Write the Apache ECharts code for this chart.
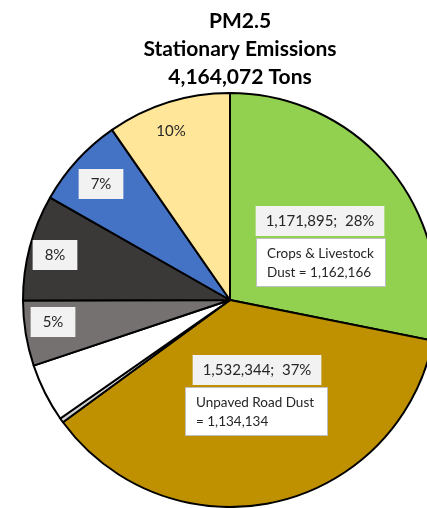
<!DOCTYPE html>
<html>
<head>
<meta charset="utf-8">
<script src="https://cdn.jsdelivr.net/npm/echarts@6/dist/echarts.min.js"></script>
<style>
html,body{margin:0;padding:0;background:#fff;}
#chart{width:427px;height:508px;}
</style>
</head>
<body>
<div id="chart"></div>
<script>
// ---- data ----
const titleLines = ['PM2.5', 'Stationary Emissions', '4,164,072 Tons'];
const categories = ['Crops & Livestock Dust', 'Unpaved Road Dust', 'Source C', 'Source D', 'Source E', 'Source F', 'Source G', 'Source H'];
const values = [1171895, 1532344, 15000, 190000, 212000, 345000, 296000, 401833];
const colors = ['#92d050', '#bf9000', '#d0cece', '#ffffff', '#767171', '#3b3838', '#4472c4', '#ffe699'];
// which labels show value + percent, which only percent, which none
const labelKinds = ['valuePct', 'valuePct', 'none', 'none', 'pct', 'pct', 'pct', 'plain'];
const noteLines = [
  ['Crops & Livestock', 'Dust = 1,162,166'],
  ['Unpaved Road Dust', '= 1,134,134']
];

// ---- layout ----
const labelPos = [[320, 221], [257, 370], null, null, [53, 322], [55, 255], [101, 184], [171, 131]];
const noteBoxes = [[256, 238, 129, 48], [185, 387, 142, 48]];

const FONT = 'Lato, "Open Sans", sans-serif';
const chart = echarts.init(document.getElementById('chart'));
const total = values.reduce((a, b) => a + b, 0);

const data = values.map((v, i) => {
  const kind = labelKinds[i];
  const lbl = { show: kind !== 'none' };
  if (kind === 'valuePct') {
    lbl.backgroundColor = '#f2f2f2';
    lbl.padding = [8, 10, 7, 10];
  } else if (kind === 'pct') {
    lbl.backgroundColor = '#f2f2f2';
    lbl.padding = [8, 12, 7, 12];
  }
  return { name: categories[i], value: v, itemStyle: { color: colors[i] }, label: lbl };
});

const graphics = noteLines.map((lines, k) => {
  const b = noteBoxes[k];
  return {
    type: 'group', x: b[0], y: b[1], z: 100,
    children: [
      { type: 'rect', z: 100, shape: { x: 0.5, y: 0.5, width: b[2], height: b[3] },
        style: { fill: '#ffffff', stroke: '#bfbfbf', lineWidth: 1 } },
      { type: 'text', z: 101, x: 11, y: 6,
        style: { text: lines.join('\n'), font: '13.5px ' + FONT, fill: '#262626', lineHeight: 19 } }
    ]
  };
});

chart.setOption({
  animation: false,
  title: {
    text: titleLines.join('\n'),
    left: 235, top: 2, textAlign: 'center',
    textStyle: { fontFamily: FONT, fontWeight: 'bold', fontSize: 21, lineHeight: 28, color: '#000' }
  },
  series: [{
    type: 'pie',
    center: [230, 300],
    radius: 207,
    startAngle: 90,
    clockwise: true,
    avoidLabelOverlap: false,
    itemStyle: { borderColor: '#000', borderWidth: 2 },
    label: {
      position: 'inside',
      fontFamily: FONT, fontSize: 15, color: '#262626',
      formatter: p => {
        const pct = Math.round(p.value / total * 100) + '%';
        if (labelKinds[p.dataIndex] === 'valuePct') return p.value.toLocaleString('en-US') + ';  ' + pct;
        return pct;
      }
    },
    labelLine: { show: false },
    labelLayout: p => {
      const pos = labelPos[p.dataIndex];
      if (!pos) return {};
      return { x: pos[0], y: pos[1], align: 'center', verticalAlign: 'middle' };
    },
    emphasis: { disabled: true },
    data: data
  }]
});
chart.setOption({ graphic: { z: 100, zlevel: 1, elements: graphics } });
</script>
</body>
</html>
